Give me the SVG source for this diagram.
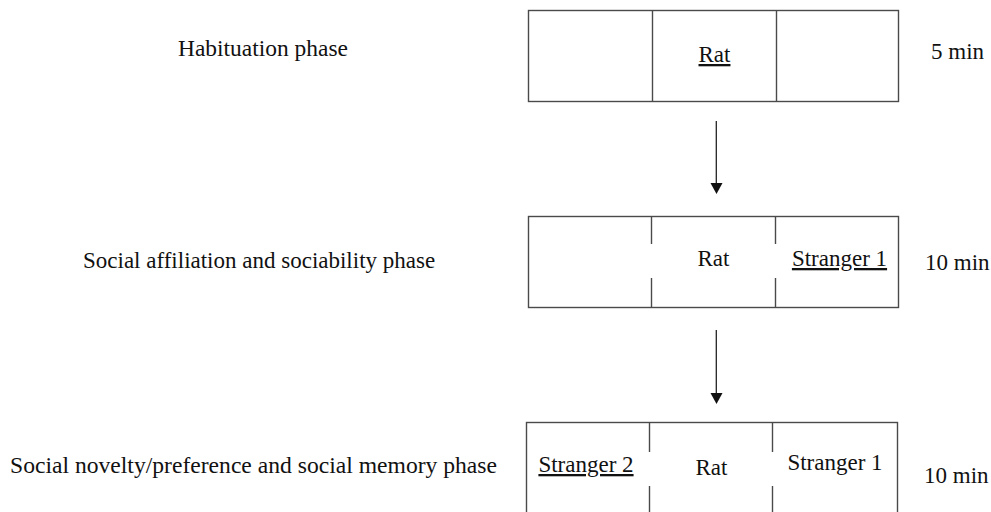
<svg xmlns="http://www.w3.org/2000/svg" width="991" height="512" viewBox="0 0 991 512">
<defs>
<style>
text{font-family:'Liberation Serif','DejaVu Serif',serif;font-size:23px;fill:#111}
.u{text-decoration:underline}
.b{fill:none;stroke:#4a4a4a;stroke-width:1.4}
.c{stroke:#222;stroke-width:1.3}
</style>
</defs>
<rect width="991" height="512" fill="#fff"/>
<g id="labels">
<text x="178" y="56" textLength="170" lengthAdjust="spacingAndGlyphs">Habituation phase</text>
<text x="83" y="268">Social affiliation and sociability phase</text>
<text x="10" y="473" textLength="487" lengthAdjust="spacingAndGlyphs">Social novelty/preference and social memory phase</text>
<text x="931" y="59">5 min</text>
<text x="925" y="270">10 min</text>
<text x="924" y="483">10 min</text>
</g>
<g id="box1">
<rect class="b" x="528.5" y="10.5" width="370" height="91"/>
<line class="b" x1="652.5" y1="10.5" x2="652.5" y2="101.5"/>
<line class="b" x1="776.5" y1="10.5" x2="776.5" y2="101.5"/>
<text class="u" x="714.5" y="62" text-anchor="middle">Rat</text>
</g>
<g id="box2">
<rect class="b" x="528.5" y="216.5" width="370" height="91"/>
<line class="b" x1="651.5" y1="216.5" x2="651.5" y2="244"/>
<line class="b" x1="651.5" y1="278" x2="651.5" y2="307.5"/>
<line class="b" x1="775.5" y1="216.5" x2="775.5" y2="244"/>
<line class="b" x1="775.5" y1="278" x2="775.5" y2="307.5"/>
<text x="713.5" y="266" text-anchor="middle">Rat</text>
<text class="u" x="839.5" y="266" text-anchor="middle">Stranger 1</text>
</g>
<g id="box3">
<rect class="b" x="526.5" y="422.5" width="371" height="100"/>
<line class="b" x1="649.5" y1="422.5" x2="649.5" y2="452"/>
<line class="b" x1="649.5" y1="486" x2="649.5" y2="512"/>
<line class="b" x1="772.5" y1="422.5" x2="772.5" y2="452"/>
<line class="b" x1="772.5" y1="486" x2="772.5" y2="512"/>
<text class="u" x="586" y="472" text-anchor="middle">Stranger 2</text>
<text x="711.5" y="475" text-anchor="middle">Rat</text>
<text x="835" y="470" text-anchor="middle">Stranger 1</text>
</g>
<g id="connectors">
<line class="c" x1="716.3" y1="121" x2="716.3" y2="184"/>
<polygon points="710.5,183 722.5,183 716.5,194" fill="#111"/>
<line class="c" x1="716.3" y1="330" x2="716.3" y2="394"/>
<polygon points="710.5,393 722.5,393 716.5,404" fill="#111"/>
</g>
</svg>
